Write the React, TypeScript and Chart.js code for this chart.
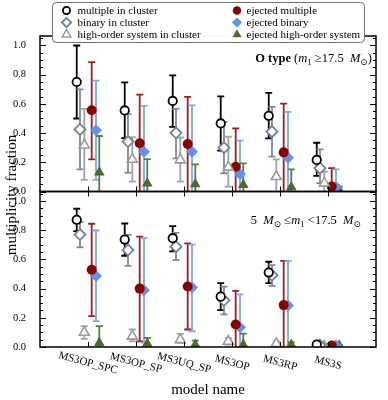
import { useEffect, useRef } from 'react';
import { Chart, registerables } from 'chart.js';
Chart.register(...registerables);

// ---------------- data ----------------
const CATEGORIES = ['MS3OP_SPC', 'MS3OP_SP', 'MS3UQ_SP', 'MS3OP', 'MS3RP', 'MS3S'];
const SERIES_NAMES = [
  'multiple in cluster',
  'binary in cluster',
  'high-order system in cluster',
  'ejected multiple',
  'ejected binary',
  'ejected high-order system',
];
const Y_TICKS = [0, 0.2, 0.4, 0.6, 0.8, 1.0];
const Y_MINOR = [0.05, 0.1, 0.15, 0.25, 0.3, 0.35, 0.45, 0.5, 0.55, 0.65, 0.7, 0.75, 0.85, 0.9, 0.95, 1.05];
const X_TITLE = 'model name';
const Y_TITLE = 'multiplicity fraction';

// Top panel: O type (m1 >= 17.5 Msun)
const O_MULT = [0.75, 0.555, 0.62, 0.466, 0.518, 0.216];
const O_MULT_LO = [0.5, 0.365, 0.443, 0.28, 0.364, 0.107];
const O_MULT_HI = [1.0, 0.748, 0.795, 0.652, 0.675, 0.334];
const O_BIN = [0.425, 0.342, 0.402, 0.3, 0.41, 0.16];
const O_BIN_LO = [0.152, 0.127, 0.227, 0.125, 0.239, 0.057];
const O_BIN_HI = [0.7, 0.53, 0.566, 0.477, 0.58, 0.289];
const O_HIGH = [0.318, 0.22, 0.216, 0.166, 0.102, 0.057];
const O_HIGH_LO = [0.08, 0.068, 0.068, 0.034, 0.0, 0.0];
const O_HIGH_HI = [0.566, 0.372, 0.37, 0.375, 0.22, 0.136];
const O_EJM = [0.557, 0.33, 0.325, 0.17, 0.268, 0.034];
const O_EJM_LO = [0.22, 0, 0, 0, 0, 0];
const O_EJM_HI = [0.886, 0.664, 0.648, 0.432, 0.602, 0.16];
const O_EJB = [0.42, 0.272, 0.273, 0.12, 0.232, 0.03];
const O_EJB_LO = [0.08, 0, 0, 0, 0, 0];
const O_EJB_HI = [0.76, 0.587, 0.59, 0.348, 0.545, 0.152];
const O_EJH = [0.13, 0.055, 0.05, 0.045, 0.03, 0.01];
const O_EJH_LO = [0, 0, 0, 0, 0, 0];
const O_EJH_HI = [0.38, 0.222, 0.186, 0.193, 0.152, 0.034];

// Bottom panel: 5 Msun <= m1 < 17.5 Msun
const B_MULT = [0.871, 0.736, 0.745, 0.345, 0.51, 0.016];
const B_MULT_LO = [0.793, 0.625, 0.655, 0.253, 0.437, 0.005];
const B_MULT_HI = [0.947, 0.846, 0.828, 0.437, 0.584, 0.028];
const B_BIN = [0.77, 0.664, 0.687, 0.32, 0.492, 0.012];
const B_BIN_LO = [0.683, 0.556, 0.595, 0.223, 0.418, 0.004];
const B_BIN_HI = [0.855, 0.768, 0.782, 0.414, 0.561, 0.022];
const B_HIGH = [0.1, 0.074, 0.05, 0.039, 0.023, 0.004];
const B_HIGH_LO = [0.055, 0.039, 0.028, 0.016, 0.005, 0];
const B_HIGH_HI = [0.143, 0.12, 0.09, 0.062, 0.039, 0.008];
const B_EJM = [0.529, 0.4, 0.414, 0.154, 0.287, 0.01];
const B_EJM_LO = [0.211, 0.039, 0.12, 0, 0, 0];
const B_EJM_HI = [0.844, 0.756, 0.71, 0.384, 0.59, 0.02];
const B_EJB = [0.487, 0.389, 0.407, 0.136, 0.285, 0.011];
const B_EJB_LO = [0.177, 0.03, 0.108, 0, 0, 0];
const B_EJB_HI = [0.798, 0.745, 0.701, 0.361, 0.59, 0.02];
const B_EJH = [0.028, 0.023, 0.016, 0.016, 0.016, 0.01];
const B_EJH_LO = [0, 0, 0, 0, 0, 0];
const B_EJH_HI = [0.143, 0.062, 0.044, 0.092, 0.032, 0.015];

// ---------------- styling / layout ----------------
const SERIF = "'Liberation Serif', 'DejaVu Serif', serif";
const Y_MAX = 1.065;
const X_MAX = CATEGORIES.length + 1;
const X_OFFSETS = [-0.235, -0.167, -0.077, 0.077, 0.167, 0.235];
const STYLES = [
  { shape: 'circle', r: 4.2, stroke: '#000000', fill: '#ffffff', bar: '#000000', bw: 1.8 },
  { shape: 'diamond', r: 5.5, stroke: '#718293', fill: '#ffffff', bar: '#7d8b99', bw: 1.8 },
  { shape: 'triangle', r: 5.8, stroke: '#9a9a9a', fill: '#ffffff', bar: '#a3a3a3', bw: 1.6 },
  { shape: 'circle', r: 5, stroke: '#8b0000', fill: '#8b0000', bar: '#a51c1c', bw: 0 },
  { shape: 'diamond', r: 6, stroke: '#5b95ee', fill: '#5b95ee', bar: '#7ca9f0', bw: 0 },
  { shape: 'triangle', r: 6.2, stroke: '#4f6a2a', fill: '#4f6a2a', bar: '#5e7b38', bw: 0 },
];
const PT_STYLE: Record<string, string> = { circle: 'circle', diamond: 'rectRot', triangle: 'triangle' };

const PANELS = [
  {
    axis: 'yTop',
    val: [O_MULT, O_BIN, O_HIGH, O_EJM, O_EJB, O_EJH],
    lo: [O_MULT_LO, O_BIN_LO, O_HIGH_LO, O_EJM_LO, O_EJB_LO, O_EJH_LO],
    hi: [O_MULT_HI, O_BIN_HI, O_HIGH_HI, O_EJM_HI, O_EJB_HI, O_EJH_HI],
  },
  {
    axis: 'yBot',
    val: [B_MULT, B_BIN, B_HIGH, B_EJM, B_EJB, B_EJH],
    lo: [B_MULT_LO, B_BIN_LO, B_HIGH_LO, B_EJM_LO, B_EJB_LO, B_EJH_LO],
    hi: [B_MULT_HI, B_BIN_HI, B_HIGH_HI, B_EJM_HI, B_EJB_HI, B_EJH_HI],
  },
];

function drawShape(ctx: CanvasRenderingContext2D, shape: string, x: number, y: number, r: number) {
  ctx.beginPath();
  if (shape === 'circle') {
    ctx.arc(x, y, r, 0, Math.PI * 2);
  } else if (shape === 'diamond') {
    ctx.moveTo(x - r, y);
    ctx.lineTo(x, y - r);
    ctx.lineTo(x + r, y);
    ctx.lineTo(x, y + r);
    ctx.closePath();
  } else {
    for (let k = 0; k < 3; k++) {
      const a = (k * 2 * Math.PI) / 3;
      const px = x + Math.sin(a) * r;
      const py = y - Math.cos(a) * r;
      if (k === 0) ctx.moveTo(px, py);
      else ctx.lineTo(px, py);
    }
    ctx.closePath();
  }
}

type Seg = { t: string; font: string; dy?: number };
function drawRich(ctx: CanvasRenderingContext2D, segs: Seg[], xRight: number, yBase: number) {
  let total = 0;
  for (const s of segs) {
    ctx.font = s.font;
    total += ctx.measureText(s.t).width;
  }
  let x = xRight - total;
  ctx.textAlign = 'left';
  ctx.textBaseline = 'alphabetic';
  for (const s of segs) {
    ctx.font = s.font;
    ctx.fillText(s.t, x, yBase + (s.dy || 0));
    x += ctx.measureText(s.t).width;
  }
}

const panelPlugin = {
  id: 'panelPlugin',
  beforeDatasetsDraw(chart: any) {
    const ctx: CanvasRenderingContext2D = chart.ctx;
    const xs = chart.scales.x;
    ctx.save();
    PANELS.forEach((p) => {
      const ys = chart.scales[p.axis];
      p.val.forEach((_, si) => {
        const st = STYLES[si];
        ctx.strokeStyle = st.bar;
        ctx.lineWidth = 1.8;
        CATEGORIES.forEach((_, ci) => {
          const x = xs.getPixelForValue(ci + 1 + X_OFFSETS[si]);
          const y0 = ys.getPixelForValue(p.lo[si][ci]);
          const y1 = ys.getPixelForValue(p.hi[si][ci]);
          ctx.beginPath();
          ctx.moveTo(x, y0);
          ctx.lineTo(x, y1);
          ctx.moveTo(x - 3.5, y1);
          ctx.lineTo(x + 3.5, y1);
          if (p.lo[si][ci] > 0) {
            ctx.moveTo(x - 3.5, y0);
            ctx.lineTo(x + 3.5, y0);
          }
          ctx.stroke();
        });
      });
    });
    ctx.restore();
  },
  afterDatasetsDraw(chart: any) {
    const ctx: CanvasRenderingContext2D = chart.ctx;
    const xs = chart.scales.x;
    const { left, right } = chart.chartArea;
    ctx.save();
    ctx.strokeStyle = '#000';
    PANELS.forEach((p) => {
      const ys = chart.scales[p.axis];
      const top = ys.top;
      const bottom = ys.bottom;
      ctx.lineWidth = 1;
      ctx.beginPath();
      Y_TICKS.forEach((v) => {
        const y = Math.round(ys.getPixelForValue(v)) + 0.5;
        ctx.moveTo(left, y);
        ctx.lineTo(left + 6, y);
        ctx.moveTo(right, y);
        ctx.lineTo(right - 6, y);
      });
      Y_MINOR.forEach((v) => {
        const y = Math.round(ys.getPixelForValue(v)) + 0.5;
        if (y < top + 1) return;
        ctx.moveTo(left, y);
        ctx.lineTo(left + 3, y);
        ctx.moveTo(right, y);
        ctx.lineTo(right - 3, y);
      });
      CATEGORIES.forEach((_, ci) => {
        const x = Math.round(xs.getPixelForValue(ci + 1)) + 0.5;
        ctx.moveTo(x, bottom);
        ctx.lineTo(x, bottom - 5);
        ctx.moveTo(x, top);
        ctx.lineTo(x, top + 5);
      });
      ctx.stroke();
      ctx.lineWidth = 1.5;
      ctx.strokeRect(left, top, right - left, bottom - top);
    });
    ctx.restore();
  },
  afterDraw(chart: any) {
    const ctx: CanvasRenderingContext2D = chart.ctx;
    const xs = chart.scales.x;
    const { left, right, bottom } = chart.chartArea;
    ctx.save();
    ctx.fillStyle = '#000';
    // category labels (rotated clockwise)
    ctx.font = `11px ${SERIF}`;
    ctx.textAlign = 'center';
    ctx.textBaseline = 'middle';
    CATEGORIES.forEach((c, ci) => {
      const x = xs.getPixelForValue(ci + 1);
      ctx.save();
      ctx.translate(x, bottom + 16);
      ctx.rotate((15 * Math.PI) / 180);
      ctx.fillText(c, 0, 0);
      ctx.restore();
    });
    // axis titles
    ctx.font = `15px ${SERIF}`;
    ctx.fillText(X_TITLE, (left + right) / 2, 390);
    ctx.save();
    ctx.translate(15.5, 195);
    ctx.rotate(-Math.PI / 2);
    ctx.textBaseline = 'alphabetic';
    ctx.fillText(Y_TITLE, 0, 0);
    ctx.restore();

    // panel annotations
    const reg = `12.5px ${SERIF}`;
    const it = `italic 12.5px ${SERIF}`;
    const sub = `9px ${SERIF}`;
    const yTop = chart.scales.yTop;
    const yBot = chart.scales.yBot;
    drawRich(
      ctx,
      [
        { t: 'O type', font: `bold 12.5px ${SERIF}` },
        { t: ' (', font: reg },
        { t: 'm', font: it },
        { t: '1', font: sub, dy: 3 },
        { t: ' \u226517.5  ', font: reg },
        { t: 'M', font: it },
        { t: '\u2299', font: sub, dy: 3 },
        { t: ')', font: reg },
      ],
      right - 4,
      yTop.top + 26
    );
    drawRich(
      ctx,
      [
        { t: '5  ', font: reg },
        { t: 'M', font: it },
        { t: '\u2299', font: sub, dy: 3 },
        { t: ' \u2264', font: reg },
        { t: 'm', font: it },
        { t: '1', font: sub, dy: 3 },
        { t: ' <17.5  ', font: reg },
        { t: 'M', font: it },
        { t: '\u2299', font: sub, dy: 3 },
      ],
      right - 15,
      yBot.top + 32
    );

    // legend box
    const lx = 52, ly = 2.5, lw = 312, lh = 40;
    ctx.beginPath();
    ctx.roundRect(lx + 0.5, ly, lw, lh, 4);
    ctx.fillStyle = 'rgba(255,255,255,0.97)';
    ctx.fill();
    ctx.strokeStyle = '#6f6f6f';
    ctx.lineWidth = 1;
    ctx.stroke();
    ctx.font = `11px ${SERIF}`;
    ctx.textAlign = 'left';
    ctx.textBaseline = 'middle';
    SERIES_NAMES.forEach((name, si) => {
      const col = si < 3 ? 0 : 1;
      const row = si % 3;
      const mx = col === 0 ? 66.5 : 237;
      const tx = col === 0 ? 77.5 : 246.5;
      const my = 10.5 + row * 12;
      const st = STYLES[si];
      drawShape(ctx, st.shape, mx, my, st.r * 0.85);
      ctx.fillStyle = st.fill;
      ctx.fill();
      if (st.bw > 0) {
        ctx.strokeStyle = st.stroke;
        ctx.lineWidth = st.bw;
        ctx.stroke();
      }
      ctx.fillStyle = '#000';
      ctx.fillText(name, tx, my + 0.5);
    });
    ctx.restore();
  },
};

export default function App() {
  const ref = useRef<HTMLCanvasElement>(null);
  useEffect(() => {
    document.body.style.margin = '0';
    const datasets: any[] = [];
    PANELS.forEach((p) => {
      p.val.forEach((arr, si) => {
        const st = STYLES[si];
        datasets.push({
          label: SERIES_NAMES[si],
          yAxisID: p.axis,
          data: arr.map((v, ci) => ({ x: ci + 1 + X_OFFSETS[si], y: v })),
          pointStyle: PT_STYLE[st.shape],
          pointRadius: st.r,
          pointBackgroundColor: st.fill,
          pointBorderColor: st.stroke,
          pointBorderWidth: st.bw,
          showLine: false,
        });
      });
    });
    const yOpts = () => ({
      type: 'linear',
      position: 'left',
      stack: 'panels',
      stackWeight: 1,
      min: 0,
      max: Y_MAX,
      grid: { display: false },
      border: { display: false },
      ticks: {
        color: '#000',
        padding: 6,
        autoSkip: false,
        font: { family: SERIF, size: 10.5 },
        callback: (v: any) => Number(v).toFixed(1),
      },
      afterBuildTicks: (s: any) => {
        s.ticks = Y_TICKS.map((v) => ({ value: v }));
      },
      afterFit: (s: any) => {
        s.width = 30;
      },
    });
    const chart = new Chart(ref.current!, {
      type: 'scatter',
      data: { datasets },
      options: {
        responsive: false,
        animation: false,
        layout: { padding: { left: 10, right: 12, top: 36, bottom: 53 } },
        plugins: { legend: { display: false }, tooltip: { enabled: false } },
        scales: {
          x: { type: 'linear', min: 0, max: X_MAX, display: false },
          yBot: yOpts() as any,
          yTop: yOpts() as any,
        },
      },
      plugins: [panelPlugin],
    } as any);
    return () => chart.destroy();
  }, []);
  return (
    <div style={{ position: 'absolute', left: 0, top: 0, width: 388, height: 400, background: '#fff' }}>
      <canvas ref={ref} width={388} height={400} style={{ display: 'block', width: 388, height: 400 }} />
    </div>
  );
}
